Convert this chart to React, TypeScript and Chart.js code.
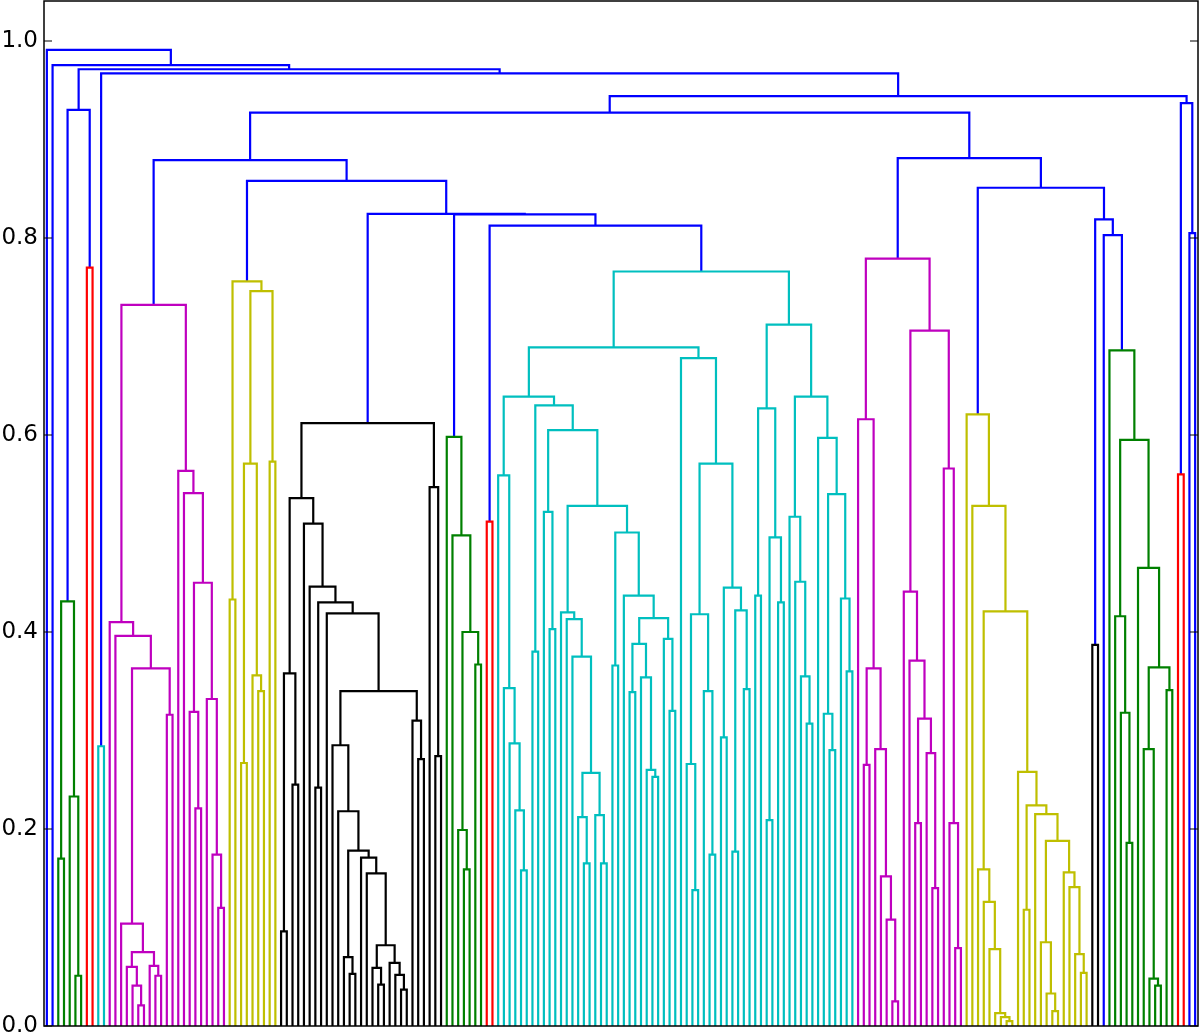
import React, { useEffect, useRef } from "react";
import { Chart, registerables } from "chart.js";
Chart.register(...registerables);

type Node = number | string | [number, Node, Node];

// Each cluster: merge heights as nested [height, left, right]; 0 = a leaf.
const greenLeft: Node = [0.431, [0.17, 0, 0], [0.233, 0, [0.051, 0, 0]]];
const redLeft: Node = [0.77, 0, 0];
const cyanLeft: Node = [0.284, 0, 0];
const magentaLeft: Node = [0.732,
  [0.41, 0, [0.396, 0, [0.363,
    [0.104, 0, [0.075, [0.06, 0, [0.041, 0, [0.021, 0, 0]]], [0.061, 0, [0.051, 0, 0]]]],
    [0.316, 0, 0]]]],
  [0.5635, 0, [0.541, 0, [0.45, [0.319, 0, [0.221, 0, 0]], [0.332, 0, [0.174, 0, [0.12, 0, 0]]]]]]];
const yellowLeft: Node = [0.756, [0.433, 0, 0],
  [0.746, [0.571, [0.267, 0, 0], [0.356, 0, [0.34, 0, 0]]], [0.573, 0, 0]]];
const blackLeft: Node = [0.612,
  [0.536,
    [0.358, [0.096, 0, 0], [0.245, 0, 0]],
    [0.51, 0, [0.446, 0, [0.43, [0.242, 0, 0], [0.419, 0, [0.34,
      [0.285, 0, [0.218, 0, [0.178,
        [0.07, 0, [0.053, 0, 0]],
        [0.171, 0, [0.155, 0, [0.082,
          [0.059, 0, [0.042, 0, 0]],
          [0.064, 0, [0.052, 0, [0.037, 0, 0]]]]]]]]],
      [0.31, 0, [0.271, 0, 0]]]]]]]],
  [0.547, 0, [0.274, 0, 0]]];
const greenMid: Node = [0.598, 0, [0.498, 0, [0.4, [0.199, 0, [0.159, 0, 0]], [0.367, 0, 0]]]];
const redMid: Node = [0.512, 0, 0];
const cyanMain: Node = [0.766,
  [0.689,
    [0.639,
      [0.559, 0, [0.343, 0, [0.287, 0, [0.219, 0, [0.158, 0, 0]]]]],
      [0.63, [0.38, 0, 0],
        [0.605, [0.522, 0, [0.403, 0, 0]],
          [0.528,
            [0.42, 0, [0.413, 0, [0.375, 0, [0.257, [0.212, 0, [0.165, 0, 0]], [0.214, 0, [0.165, 0, 0]]]]]],
            [0.501, [0.366, 0, 0],
              [0.437, 0, [0.414,
                [0.388, [0.339, 0, 0], [0.354, 0, [0.26, 0, [0.253, 0, 0]]]],
                [0.393, 0, [0.32, 0, 0]]]]]]]]],
    [0.678, 0, [0.571,
      [0.418, [0.266, 0, [0.138, 0, 0]], [0.34, 0, [0.174, 0, 0]]],
      [0.445, [0.293, 0, 0], [0.422, [0.177, 0, 0], [0.342, 0, 0]]]]]],
  [0.712,
    [0.627, [0.437, 0, 0], [0.496, [0.209, 0, 0], [0.43, 0, 0]]],
    [0.639,
      [0.517, 0, [0.451, 0, [0.355, 0, [0.307, 0, 0]]]],
      [0.597, 0, [0.54, [0.317, 0, [0.28, 0, 0]], [0.434, 0, [0.36, 0, 0]]]]]]];
const magentaRight: Node = [0.779,
  [0.616, 0, [0.363, [0.265, 0, 0], [0.281, 0, [0.152, 0, [0.108, 0, [0.025, 0, 0]]]]]],
  [0.706,
    [0.441, 0, [0.371, 0, [0.312, [0.206, 0, 0], [0.277, 0, [0.14, 0, 0]]]]],
    [0.566, 0, [0.206, 0, [0.079, 0, 0]]]]];
const yellowRight: Node = [0.621, 0, [0.528, 0, [0.421,
  [0.159, 0, [0.126, 0, [0.078, 0, [0.013, 0, [0.009, 0, [0.005, 0, 0]]]]]],
  [0.258, 0, [0.224, [0.118, 0, 0], [0.215, 0, [0.188,
    [0.085, 0, [0.033, 0, [0.015, 0, 0]]],
    [0.156, 0, [0.141, 0, [0.073, 0, [0.054, 0, 0]]]]]]]]]]];
const blackRight: Node = [0.387, 0, 0];
const greenRight: Node = [0.686, 0, [0.595,
  [0.416, 0, [0.318, 0, [0.186, 0, 0]]],
  [0.465, 0, [0.364, [0.281, 0, [0.048, 0, [0.041, 0, 0]]], [0.341, 0, 0]]]]];
const redRight: Node = [0.56, 0, 0];
const blueRight: Node = [0.805, 0, 0];

// Links above the colour threshold (blue), referencing the clusters by name
const skeleton: Node = [0.991, 0, [0.9756, 0, [0.9713,
  [0.93, "greenLeft", "redLeft"],
  [0.9672, "cyanLeft", [0.944,
    [0.9272,
      [0.879, "magentaLeft", [0.858, "yellowLeft", [0.8245, "blackLeft",
        [0.824, "greenMid", [0.8125, "redMid", "cyanMain"]]]]],
      [0.881, "magentaRight", [0.851, "yellowRight", [0.819, "blackRight",
        [0.803, 0, "greenRight"]]]]],
    [0.937, "redRight", "blueRight"]]]]]];

const clusters: Record<string, [Node, string]> = {
  greenLeft: [greenLeft, "#008000"],
  redLeft: [redLeft, "#ff0000"],
  cyanLeft: [cyanLeft, "#00bfbf"],
  magentaLeft: [magentaLeft, "#bf00bf"],
  yellowLeft: [yellowLeft, "#bfbf00"],
  blackLeft: [blackLeft, "#000000"],
  greenMid: [greenMid, "#008000"],
  redMid: [redMid, "#ff0000"],
  cyanMain: [cyanMain, "#00bfbf"],
  magentaRight: [magentaRight, "#bf00bf"],
  yellowRight: [yellowRight, "#bfbf00"],
  blackRight: [blackRight, "#000000"],
  greenRight: [greenRight, "#008000"],
  redRight: [redRight, "#ff0000"],
  blueRight: [blueRight, "#0000ff"],
};
const aboveColor = "#0000ff";
const yTicks = [0, 0.2, 0.4, 0.6, 0.8, 1.0];
const yMax = 1.0406;

type Seg = { pts: { x: number; y: number }[]; color: string };

function buildSegments() {
  const segs: Seg[] = [];
  let leaf = 0;
  const walk = (n: Node, color: string): { x: number; h: number } => {
    if (typeof n === "string") {
      const [sub, c] = clusters[n];
      return walk(sub, c);
    }
    if (typeof n === "number") {
      const x = 5 + 10 * leaf;
      leaf += 1;
      return { x, h: 0 };
    }
    const [h, l, r] = n;
    const a = walk(l, color);
    const b = walk(r, color);
    segs.push({
      color,
      pts: [
        { x: a.x, y: a.h },
        { x: a.x, y: h },
        { x: b.x, y: h },
        { x: b.x, y: b.h },
      ],
    });
    return { x: (a.x + b.x) / 2, h };
  };
  walk(skeleton, aboveColor);
  return { segs, leaves: leaf };
}

const framePlugin = {
  id: "frame",
  afterDraw(chart: any) {
    const { ctx, chartArea: a, scales } = chart;
    const ys = scales.y;
    ctx.save();
    ctx.strokeStyle = "#000";
    ctx.lineWidth = 1.5;
    ctx.strokeRect(a.left, a.top, a.right - a.left, a.bottom - a.top);
    ctx.lineWidth = 1.2;
    ctx.fillStyle = "#000";
    ctx.font = '23px "DejaVu Sans"';
    ctx.textAlign = "right";
    ctx.textBaseline = "middle";
    for (const t of yTicks) {
      const py = ys.getPixelForValue(t);
      ctx.beginPath();
      ctx.moveTo(a.left, py);
      ctx.lineTo(a.left + 8, py);
      ctx.moveTo(a.right, py);
      ctx.lineTo(a.right - 8, py);
      ctx.stroke();
      ctx.fillText(t.toFixed(1), a.left - 6, py);
    }
    ctx.restore();
  },
};

export default function App() {
  const ref = useRef<HTMLCanvasElement | null>(null);
  useEffect(() => {
    document.body.style.margin = "0";
    const { segs, leaves } = buildSegments();
    const chart = new Chart(ref.current as HTMLCanvasElement, {
      type: "scatter",
      data: {
        datasets: segs.map((s) => ({
          data: s.pts,
          showLine: true,
          borderColor: s.color,
          backgroundColor: s.color,
          borderWidth: 2.2,
          pointRadius: 0,
          pointHoverRadius: 0,
          tension: 0,
          fill: false,
          borderJoinStyle: "miter" as const,
        })),
      },
      options: {
        animation: false,
        responsive: false,
        events: [],
        layout: { padding: { left: 44, right: 2, top: 1, bottom: 9 } },
        plugins: { legend: { display: false }, tooltip: { enabled: false } },
        scales: {
          x: { type: "linear", min: 0, max: 10 * leaves, display: false },
          y: { type: "linear", min: 0, max: yMax, display: false },
        },
      },
      plugins: [framePlugin],
    });
    return () => chart.destroy();
  }, []);
  return (
    <div style={{ width: 1200, height: 1035 }}>
      <canvas ref={ref} width={1200} height={1035} style={{ display: "block" }} />
    </div>
  );
}
